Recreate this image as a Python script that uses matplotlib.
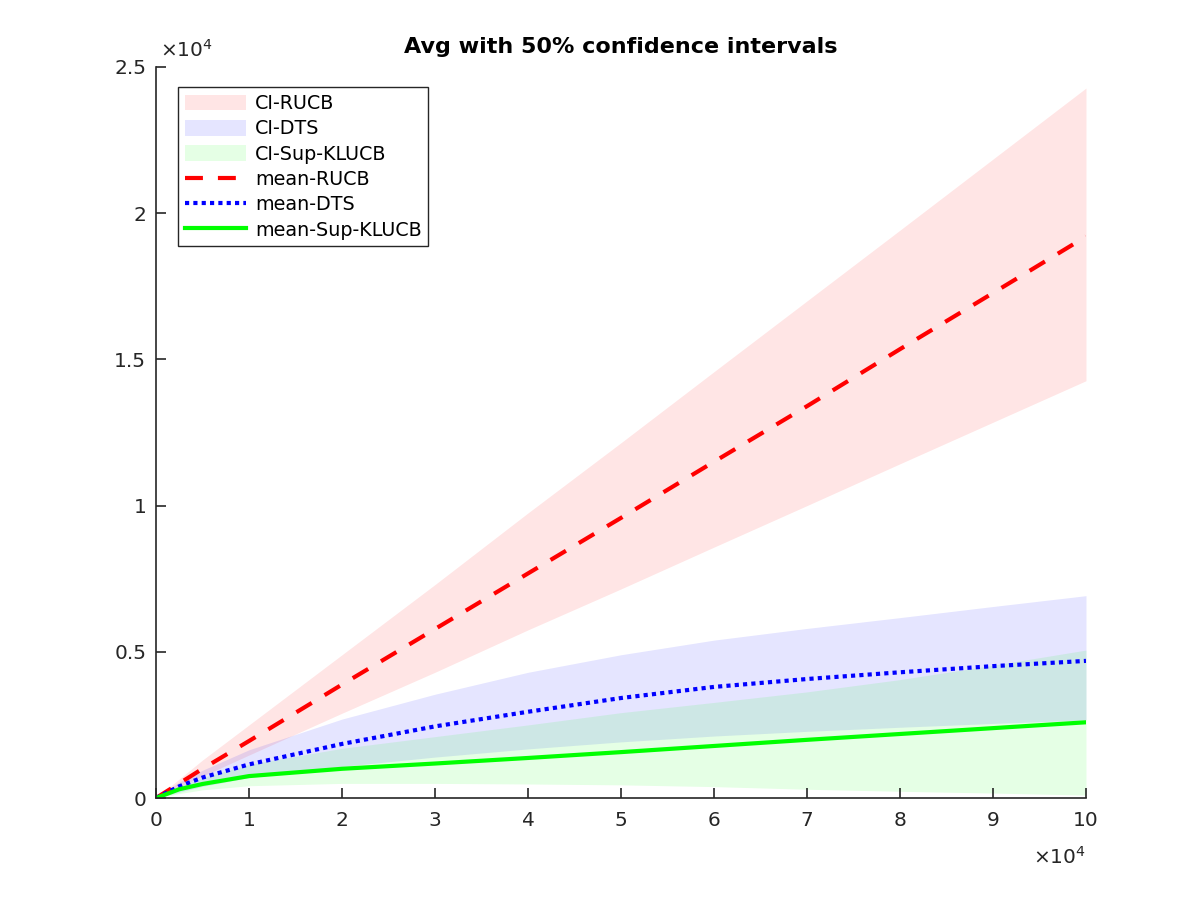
import numpy as np
import matplotlib.pyplot as plt
from matplotlib.ticker import FuncFormatter, MultipleLocator

# x positions (in units of 1e4) and curves (in units of 1e4)
x = np.array([0, 0.25, 0.5, 1, 2, 3, 4, 5, 6, 7, 8, 9, 10]) * 1e4

rucb_mean = np.array([0, 0.05, 0.1, 0.195, 0.388, 0.578, 0.768, 0.958, 1.15, 1.34, 1.535, 1.727, 1.92]) * 1e4
rucb_hi = np.array([0, 0.065, 0.13, 0.25, 0.49, 0.73, 0.975, 1.215, 1.458, 1.70, 1.942, 2.185, 2.428]) * 1e4
rucb_lo = np.array([0, 0.038, 0.075, 0.147, 0.29, 0.43, 0.575, 0.715, 0.858, 1.0, 1.143, 1.285, 1.427]) * 1e4

dts_mean = np.array([0, 0.04, 0.07, 0.115, 0.185, 0.245, 0.295, 0.342, 0.38, 0.407, 0.43, 0.451, 0.469]) * 1e4
dts_hi = np.array([0, 0.055, 0.095, 0.165, 0.27, 0.355, 0.43, 0.49, 0.54, 0.58, 0.617, 0.655, 0.692]) * 1e4
dts_lo = np.array([0, 0.02, 0.04, 0.07, 0.108, 0.14, 0.168, 0.192, 0.212, 0.228, 0.242, 0.255, 0.267]) * 1e4

kl_mean = np.array([0, 0.03, 0.048, 0.075, 0.1, 0.118, 0.137, 0.157, 0.178, 0.199, 0.219, 0.239, 0.259]) * 1e4
kl_hi = np.array([0, 0.04, 0.07, 0.115, 0.17, 0.21, 0.25, 0.292, 0.327, 0.363, 0.405, 0.454, 0.506]) * 1e4
kl_lo = np.array([0, 0.015, 0.028, 0.042, 0.05, 0.05, 0.048, 0.045, 0.039, 0.03, 0.023, 0.017, 0.01]) * 1e4

plt.rcParams['font.family'] = ['DejaVu Sans']
dark = '#262626'

fig = plt.figure(figsize=(12, 9), dpi=100)
ax = fig.add_axes([0.13, 0.1133, 0.775, 0.8123])

ax.fill_between(x, rucb_lo, rucb_hi, color=(1, 0, 0), alpha=0.1, lw=0, label='CI-RUCB')
ax.fill_between(x, dts_lo, dts_hi, color=(0, 0, 1), alpha=0.1, lw=0, label='CI-DTS')
ax.fill_between(x, kl_lo, kl_hi, color=(0, 1, 0), alpha=0.1, lw=0, label='CI-Sup-KLUCB')
ax.plot(x, rucb_mean, color='red', ls=(0, (4.3, 3.6)), lw=3, label='mean-RUCB')
ax.plot(x, dts_mean, color='blue', ls=(0, (1, 1)), lw=3, label='mean-DTS')
ax.plot(x, kl_mean, color=(0, 1, 0), ls='-', lw=3, label='mean-Sup-KLUCB')

ax.set_xlim(0, 1e5)
ax.set_ylim(0, 2.5e4)
ax.xaxis.set_major_locator(MultipleLocator(1e4))
ax.yaxis.set_major_locator(MultipleLocator(0.5e4))
fmt = FuncFormatter(lambda v, p: '%g' % (v / 1e4))
ax.xaxis.set_major_formatter(fmt)
ax.yaxis.set_major_formatter(fmt)

for s in ['top', 'right']:
    ax.spines[s].set_visible(False)
for s in ['left', 'bottom']:
    ax.spines[s].set_color(dark)
    ax.spines[s].set_linewidth(1.2)
ax.tick_params(direction='in', length=7, width=1.2, colors=dark, labelsize=14.5)
ax.tick_params(axis='x', pad=9)
ax.tick_params(axis='y', pad=7)

ax.text(0.004, 1.008, r'$\times10^{4}$', transform=ax.transAxes, fontsize=14.5, color=dark,
        ha='left', va='bottom')
ax.text(1.0, -0.065, r'$\times10^{4}$', transform=ax.transAxes, fontsize=14.5, color=dark,
        ha='right', va='top')

ax.set_title('Avg with 50% confidence intervals', fontsize=16, fontweight='bold', pad=10)

leg = ax.legend(loc='upper left', bbox_to_anchor=(0.024, 0.972), fontsize=13.8, fancybox=False,
                edgecolor=dark, framealpha=1, handlelength=3.2, handleheight=0.9,
                borderpad=0.35, labelspacing=0.33, handletextpad=0.45, borderaxespad=0)
leg.get_frame().set_linewidth(1)

fig.savefig('out.png', dpi=100)
